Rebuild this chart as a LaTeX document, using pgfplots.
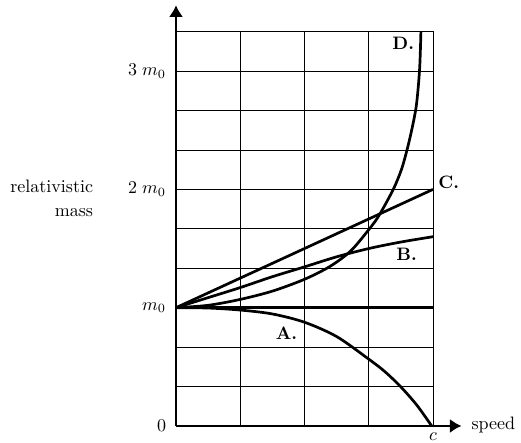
\documentclass[border=0pt]{standalone}
\usepackage{pgfplots}
\pgfplotsset{compat=1.18}
\usetikzlibrary{arrows.meta}
\begin{document}
\begin{tikzpicture}
\useasboundingbox (-97.8pt,-9.44pt) rectangle (191.7pt,236.7pt);
\begin{axis}[
  scale only axis,
  width=142.8pt, height=219.1pt,
  xmin=0, xmax=1, ymin=0, ymax=3.33333,
  xtick={0,0.25,0.5,0.75,1},
  xticklabels={,,,,$c$},
  ytick={0,0.33333,0.66667,1,1.33333,1.66667,2,2.33333,2.66667,3,3.33333},
  yticklabels={0,,,$m_0$,,,$2\;m_0$,,,$3\;m_0$,},
  yticklabel style={xshift=-2pt},
  grid=major,
  grid style={black, line width=0.5pt},
  major tick length=0pt,
  axis line style={line width=0.5pt},
  clip=false,
  every axis plot/.append style={black, line width=1.5pt, no markers},
]
% m0 reference line
\addplot[black] coordinates {(0,1) (1,1)};
% A
\addplot[black, smooth] coordinates {
  (0,1) (0.125,0.997) (0.25,0.98) (0.375,0.947) (0.5,0.877) (0.625,0.756)
  (0.75,0.565) (0.8125,0.46) (0.875,0.33) (0.9375,0.175) (0.995,0)
};
% B
\addplot[black, smooth] coordinates {
  (0,1) (0.125,1.085) (0.25,1.17) (0.375,1.262) (0.5,1.345) (0.625,1.43)
  (0.75,1.50) (0.875,1.555) (1,1.60)
};
% C
\addplot[black] coordinates {(0,1) (1,2)};
% D
\addplot[black, smooth] coordinates {
  (0,1) (0.125,1.02) (0.25,1.07) (0.375,1.14) (0.5,1.24) (0.6,1.35)
  (0.68,1.48) (0.752,1.665) (0.791,1.783) (0.846,2.003) (0.878,2.173)
  (0.9,2.343) (0.918,2.51) (0.934,2.69) (0.942,2.85) (0.948,3.02)
  (0.951,3.18) (0.953,3.333)
};

% axes with arrows
\draw[line width=1.4pt, -{Latex[length=6.5pt,width=8pt]}] (axis cs:0,0) -- (axis cs:0,3.557);
\draw[line width=1.4pt, -{Latex[length=6.5pt,width=8pt]}] (axis cs:0,0) -- (axis cs:1.111,0);

\node[font=\bfseries] at (axis cs:0.43,0.787) {A.};
\node[font=\bfseries] at (axis cs:0.897,1.452) {B.};
\node[font=\bfseries] at (axis cs:1.061,2.06) {C.};
\node[font=\bfseries] at (axis cs:0.884,3.235) {D.};

\node[anchor=base east] at (axis cs:-0.298,1.975) {relativistic};
\node[anchor=base east] at (axis cs:-0.298,1.772) {mass};
\node[anchor=base west, inner sep=0pt] at (axis cs:1.149,-0.034) {speed};
\end{axis}
\end{tikzpicture}
\end{document}
